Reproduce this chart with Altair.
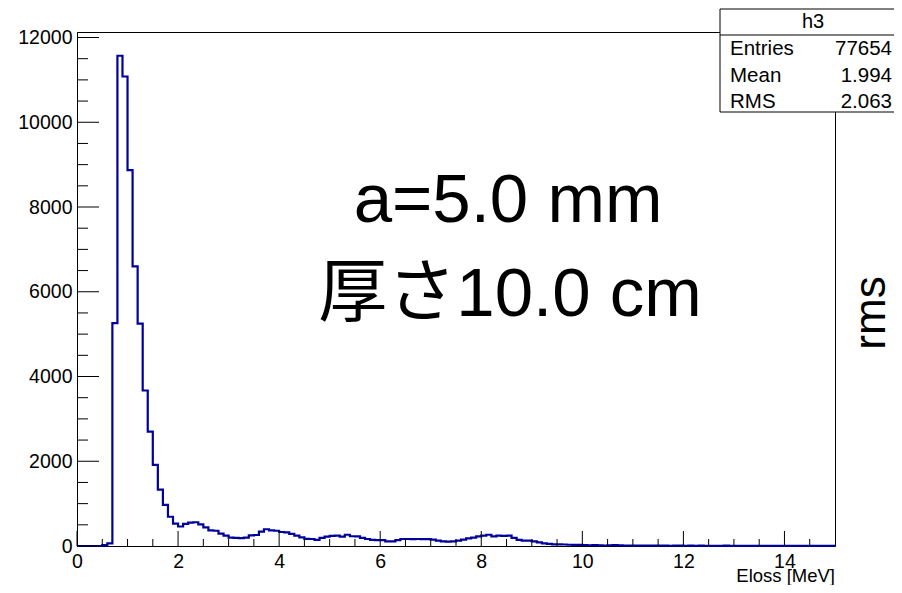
import altair as alt
import pandas as pd

# ---------------- data ----------------
x_min, x_max, n_bins = 0.0, 15.0, 150
counts = [
    0, 0, 0, 0, 0, 20, 60, 5260, 11570, 11080,             # 0.0 - 0.9
    8870, 6600, 5250, 3670, 2700, 1915, 1330, 970, 690, 530,  # 1.0 - 1.9
    460, 520, 550, 560, 510, 440, 370, 360, 290, 245,        # 2.0 - 2.9
    200, 190, 185, 200, 250, 260, 340, 395, 370, 360,        # 3.0 - 3.9
    330, 320, 285, 245, 205, 170, 165, 145, 190, 220,        # 4.0 - 4.9
    240, 245, 220, 265, 230, 225, 190, 165, 145, 140,        # 5.0 - 5.9
    140, 110, 110, 140, 165, 165, 160, 165, 160, 160,        # 6.0 - 6.9
    150, 125, 110, 105, 110, 125, 150, 180, 200, 225,        # 7.0 - 7.9
    245, 265, 225, 245, 240, 245, 190, 145, 125, 125,        # 8.0 - 8.9
    110, 85, 60, 48, 40, 38, 35, 30, 28, 25,                 # 9.0 - 9.9
    20, 18, 22, 15, 12, 18, 20, 15, 10, 12,                  # 10.0 - 10.9
    10, 8, 12, 9, 7, 10, 8, 6, 9, 7,                         # 11.0 - 11.9
    6, 8, 5, 7, 6, 4, 6, 5, 7, 4,                            # 12.0 - 12.9
    5, 4, 6, 3, 5, 4, 3, 5, 4, 3,                            # 13.0 - 13.9
    3, 4, 2, 3, 4, 2, 3, 2, 3, 2,                            # 14.0 - 14.9
]
y_max = 12130

x_major = [0, 2, 4, 6, 8, 10, 12, 14]
x_minor = [0.5, 1, 1.5, 2.5, 3, 3.5, 4.5, 5, 5.5, 6.5, 7, 7.5, 8.5, 9, 9.5,
           10.5, 11, 11.5, 12.5, 13, 13.5, 14.5]
y_major = [0, 2000, 4000, 6000, 8000, 10000, 12000]
y_minor = [500, 1000, 1500, 2500, 3000, 3500, 4500, 5000, 5500, 6500, 7000,
           7500, 8500, 9000, 9500, 10500, 11000, 11500]

stat_title = "h3"
stat_names = ["Entries", "Mean", "RMS"]
stat_values = ["77654", "1.994", "2.063"]

x_title = "Eloss [MeV]"
note1 = "a=5.0 mm"
note2 = "厚さ10.0 cm"
side_text = "rms"

# ---------------- build ----------------
W, H = 758, 514
FONT = "Liberation Sans, Helvetica, Arial, Noto Sans CJK JP"
BLUE = "#00009c"

bw = (x_max - x_min) / n_bins
edges = [round(x_min + i * bw, 3) for i in range(n_bins)] + [x_max]
hist_df = pd.DataFrame({"x": edges, "y": counts + [counts[-1]]})

xs = alt.Scale(domain=[x_min, x_max], nice=False, zero=False)
ys = alt.Scale(domain=[0, y_max], nice=False)

x_axis = alt.Axis(
    values=x_major, tickSize=0, labelPadding=6, labelFont=FONT,
    labelFontSize=19.5, labelColor="black", labelFlush=False,
    domainColor="black", grid=False, title=None, format="d")
y_axis = alt.Axis(
    values=y_major, tickSize=0, labelPadding=5, labelFont=FONT,
    labelFontSize=19.5, labelColor="black", labelFlush=False,
    domainColor="black", grid=False, title=None, format="d")

hist = alt.Chart(hist_df).mark_line(
    interpolate="step-after", color=BLUE, strokeWidth=2.2
).encode(
    x=alt.X("x:Q", scale=xs, axis=x_axis),
    y=alt.Y("y:Q", scale=ys, axis=y_axis),
)

def xticks(vals, length):
    return alt.Chart(pd.DataFrame({"t": vals})).mark_rule(
        color="black", strokeWidth=1
    ).encode(x=alt.X("t:Q", scale=xs, axis=x_axis),
             y=alt.value(H), y2=alt.value(H - length))

def yticks(vals, length):
    return alt.Chart(pd.DataFrame({"t": vals})).mark_rule(
        color="black", strokeWidth=1
    ).encode(y=alt.Y("t:Q", scale=ys, axis=y_axis),
             x=alt.value(0), x2=alt.value(length))

one = alt.Data(values=[{}])

def label(text, x, y, size, align="center", baseline="alphabetic", angle=0):
    kw = dict(text=text, font=FONT, fontSize=size, align=align,
              baseline=baseline, color="black")
    if angle:
        kw["angle"] = angle
    return alt.Chart(one).mark_text(**kw).encode(x=alt.value(x), y=alt.value(y))

# stats box
bx0, bx1, by0, by1 = 643, 840, -23, 80
box = alt.Chart(one).mark_rect(fill="white", stroke="black", strokeWidth=1).encode(
    x=alt.value(bx0), x2=alt.value(bx1), y=alt.value(by0), y2=alt.value(by1))
sep = alt.Chart(one).mark_rule(color="black", strokeWidth=1).encode(
    x=alt.value(bx0), x2=alt.value(bx1), y=alt.value(3))
stat_layers = [box, sep, label(stat_title, 736, -4, 20)]
for i, (n, v) in enumerate(zip(stat_names, stat_values)):
    yb = 23 + i * 26.5
    stat_layers.append(label(n, 653, yb, 20.5, align="left"))
    stat_layers.append(label(v, 815, yb, 20.5, align="right"))

chart = alt.layer(
    hist,
    xticks(x_major, 15), xticks(x_minor, 7),
    yticks(y_major, 22), yticks(y_minor, 11),
    label(note1, 431, 190, 69),
    label(note2, 433, 284, 69),
    label(side_text, 795, 281, 44, baseline="middle", angle=270),
    label(x_title, W, 549.5, 18.5, align="right"),
    *stat_layers,
).properties(
    width=W, height=H,
    padding={"left": 69, "top": 24, "right": 59, "bottom": 39},
    autosize=alt.AutoSizeParams(type="none"),
).configure_view(stroke="black", strokeWidth=1)

chart.save("out.html", embed_options={"renderer": "svg", "actions": False})
